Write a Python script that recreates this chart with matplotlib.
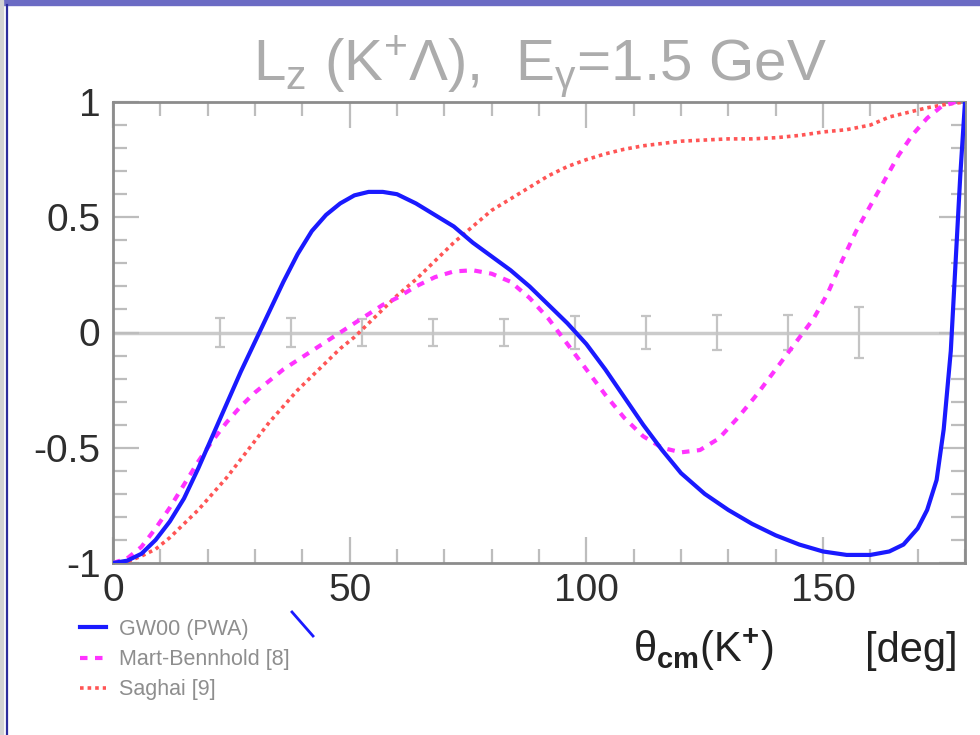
import matplotlib
matplotlib.use("Agg")
import matplotlib.pyplot as plt
from matplotlib.lines import Line2D
from matplotlib.patches import Rectangle
from matplotlib.ticker import MultipleLocator, FixedLocator, FixedFormatter

plt.rcParams['mathtext.fontset'] = 'custom'
plt.rcParams['mathtext.rm'] = 'Liberation Sans'
plt.rcParams['mathtext.it'] = 'Liberation Sans'
plt.rcParams['mathtext.sf'] = 'Liberation Sans:bold'
plt.rcParams['mathtext.default'] = 'rm'

# GW00 (PWA), solid blue
theta_gw = [0, 3, 6, 9, 12, 15, 18, 21, 24, 27, 30, 33, 36, 39, 42, 45, 48, 51, 54, 57,
            60, 64, 68, 72, 76, 80, 84, 88, 92, 96, 100, 104, 108, 112, 116, 120, 125,
            130, 135, 140, 145, 150, 155, 160, 164, 167, 170, 172, 174, 175.5, 177, 178,
            179, 180]
lz_gw = [-1.0, -0.99, -0.96, -0.9, -0.82, -0.72, -0.59, -0.45, -0.31, -0.17, -0.04, 0.09,
         0.22, 0.34, 0.44, 0.51, 0.56, 0.595, 0.61, 0.61, 0.6, 0.56, 0.51, 0.46, 0.39,
         0.33, 0.27, 0.2, 0.12, 0.04, -0.05, -0.16, -0.28, -0.4, -0.51, -0.61, -0.7,
         -0.77, -0.83, -0.88, -0.92, -0.95, -0.965, -0.965, -0.95, -0.92, -0.85, -0.77,
         -0.64, -0.42, -0.08, 0.3, 0.68, 1.0]

# Mart-Bennhold, dashed magenta
theta_mb = [0, 3, 6, 9, 12, 15, 18, 21, 24, 27, 30, 33, 36, 39, 42, 45, 48, 51, 54, 57,
            60, 64, 68, 72, 76, 80, 84, 88, 92, 96, 100, 104, 108, 112, 116, 120, 124,
            128, 132, 136, 140, 144, 148, 151, 154, 157, 160, 163, 166, 169, 172, 175,
            178, 180]
lz_mb = [-1.0, -0.98, -0.93, -0.85, -0.76, -0.66, -0.56, -0.47, -0.39, -0.32, -0.26,
         -0.21, -0.16, -0.12, -0.08, -0.04, 0.0, 0.04, 0.08, 0.12, 0.15, 0.2, 0.24, 0.265,
         0.27, 0.255, 0.22, 0.15, 0.06, -0.05, -0.16, -0.27, -0.37, -0.45, -0.5, -0.52,
         -0.51, -0.46, -0.37, -0.27, -0.16, -0.05, 0.06, 0.17, 0.31, 0.44, 0.55, 0.66,
         0.77, 0.86, 0.93, 0.98, 1.0, 1.0]

# Saghai, dotted red
theta_sa = [0, 3, 6, 9, 12, 15, 18, 21, 24, 27, 30, 33, 36, 39, 42, 45, 48, 51, 54, 57,
            60, 64, 68, 72, 76, 80, 84, 88, 92, 96, 100, 104, 108, 112, 116, 120, 125,
            130, 135, 140, 145, 150, 155, 160, 164, 168, 172, 176, 180]
lz_sa = [-1.0, -0.995, -0.97, -0.94, -0.89, -0.83, -0.77, -0.7, -0.63, -0.55, -0.47,
         -0.39, -0.32, -0.25, -0.19, -0.13, -0.07, -0.02, 0.04, 0.1, 0.16, 0.23, 0.31,
         0.39, 0.46, 0.53, 0.58, 0.63, 0.68, 0.72, 0.75, 0.775, 0.795, 0.81, 0.82, 0.83,
         0.835, 0.84, 0.84, 0.845, 0.855, 0.87, 0.88, 0.9, 0.935, 0.955, 0.975, 0.99, 1.0]

# error bars drawn around zero
theta_err = [22.5, 37.5, 52.5, 67.5, 82.5, 97.5, 112.5, 127.5, 142.5, 157.5]
err = [0.065, 0.065, 0.06, 0.058, 0.058, 0.072, 0.072, 0.075, 0.078, 0.11]

labels = ['GW00 (PWA)', 'Mart-Bennhold [8]', 'Saghai [9]']

fig = plt.figure(figsize=(9.8, 7.35), dpi=100)
ax = fig.add_axes([113/980, 1-563/735, (965-113)/980, (563-102)/735])

ax.axhline(0, color='#cbcbcb', lw=2.5, zorder=1)
ax.errorbar(theta_err, [0]*len(theta_err), yerr=err, fmt='none', ecolor='#c4c4c4',
            elinewidth=1.6, capsize=3.5, capthick=1.6, zorder=2)

l3, = ax.plot(theta_sa, lz_sa, color='#ff5555', lw=2.6, linestyle=(0, (1, 1.1)), zorder=3)
l2, = ax.plot(theta_mb, lz_mb, color='#ff33ff', lw=3.0, linestyle=(0, (1.8, 1.8)), zorder=4)
l1, = ax.plot(theta_gw, lz_gw, color='#1a1aff', lw=3.0, zorder=5)

ax.set_xlim(0, 180)
ax.set_ylim(-1, 1)
ax.xaxis.set_major_locator(FixedLocator([0, 50, 100, 150]))
ax.xaxis.set_minor_locator(MultipleLocator(10))
ax.yaxis.set_major_locator(FixedLocator([-1, -0.5, 0, 0.5, 1]))
ax.yaxis.set_major_formatter(FixedFormatter(['-1', '-0.5', '0', '0.5', '1']))
ax.yaxis.set_minor_locator(MultipleLocator(0.1))
ax.tick_params(which='both', direction='in', top=True, right=True, color='#bdbdbd')
ax.tick_params(which='major', length=19, width=1.6)
ax.tick_params(which='minor', length=10, width=1.6)
ax.tick_params(axis='both', labelsize=28, labelcolor='#2e2e2e')
ax.tick_params(axis='y', pad=9)
ax.tick_params(axis='x', pad=7)
for lab in ax.get_xticklabels() + ax.get_yticklabels():
    lab.set_fontfamily('Liberation Sans')
for sp in ax.spines.values():
    sp.set_color('#8c8c8c')
    sp.set_linewidth(2.0)

fig.text(540/980, 1-80/735, r'L$_z$ (K$^{+}$$\Lambda$),  E$_\gamma$=1.5 GeV', ha='center',
         va='baseline', fontsize=42, color='#acacac', family='Liberation Sans')

fig.text(703/980, 1-662/735, r'θ$_{\mathsf{cm}}$(K$^{\mathsf{+}}$)', ha='center', va='baseline',
         fontsize=30, color='#222222', family='Liberation Sans')
fig.text(911/980, 1-662/735, '[deg]', ha='center', va='baseline', fontsize=30,
         color='#222222', family='Liberation Sans')

fig.legend([l1, l2, l3], labels, loc='upper left', bbox_to_anchor=(80/980, 1-619/735),
           frameon=False, labelcolor='#8e8e8e', handlelength=1.2,
           handletextpad=0.6, labelspacing=0.42, borderpad=0, borderaxespad=0,
           prop={'family': 'Liberation Sans', 'size': 15.5})

# slide frame remnants
fig.patches.append(Rectangle((0, 1-5/735), 1, 5/735, transform=fig.transFigure,
                             color='#6b6bc4', zorder=0))
fig.patches.append(Rectangle((0, 0), 3/980, 1, transform=fig.transFigure,
                             color='#d2d2d2', zorder=0))
fig.add_artist(Line2D([7/980, 7/980], [0, 1-5/735], transform=fig.transFigure,
                      color='#2c2c9c', lw=1.6))
fig.add_artist(Line2D([292/980, 313/980], [1-612/735, 1-636/735],
                      transform=fig.transFigure, color='#1a1aff', lw=2.0))

fig.savefig('out.png', dpi=100)
